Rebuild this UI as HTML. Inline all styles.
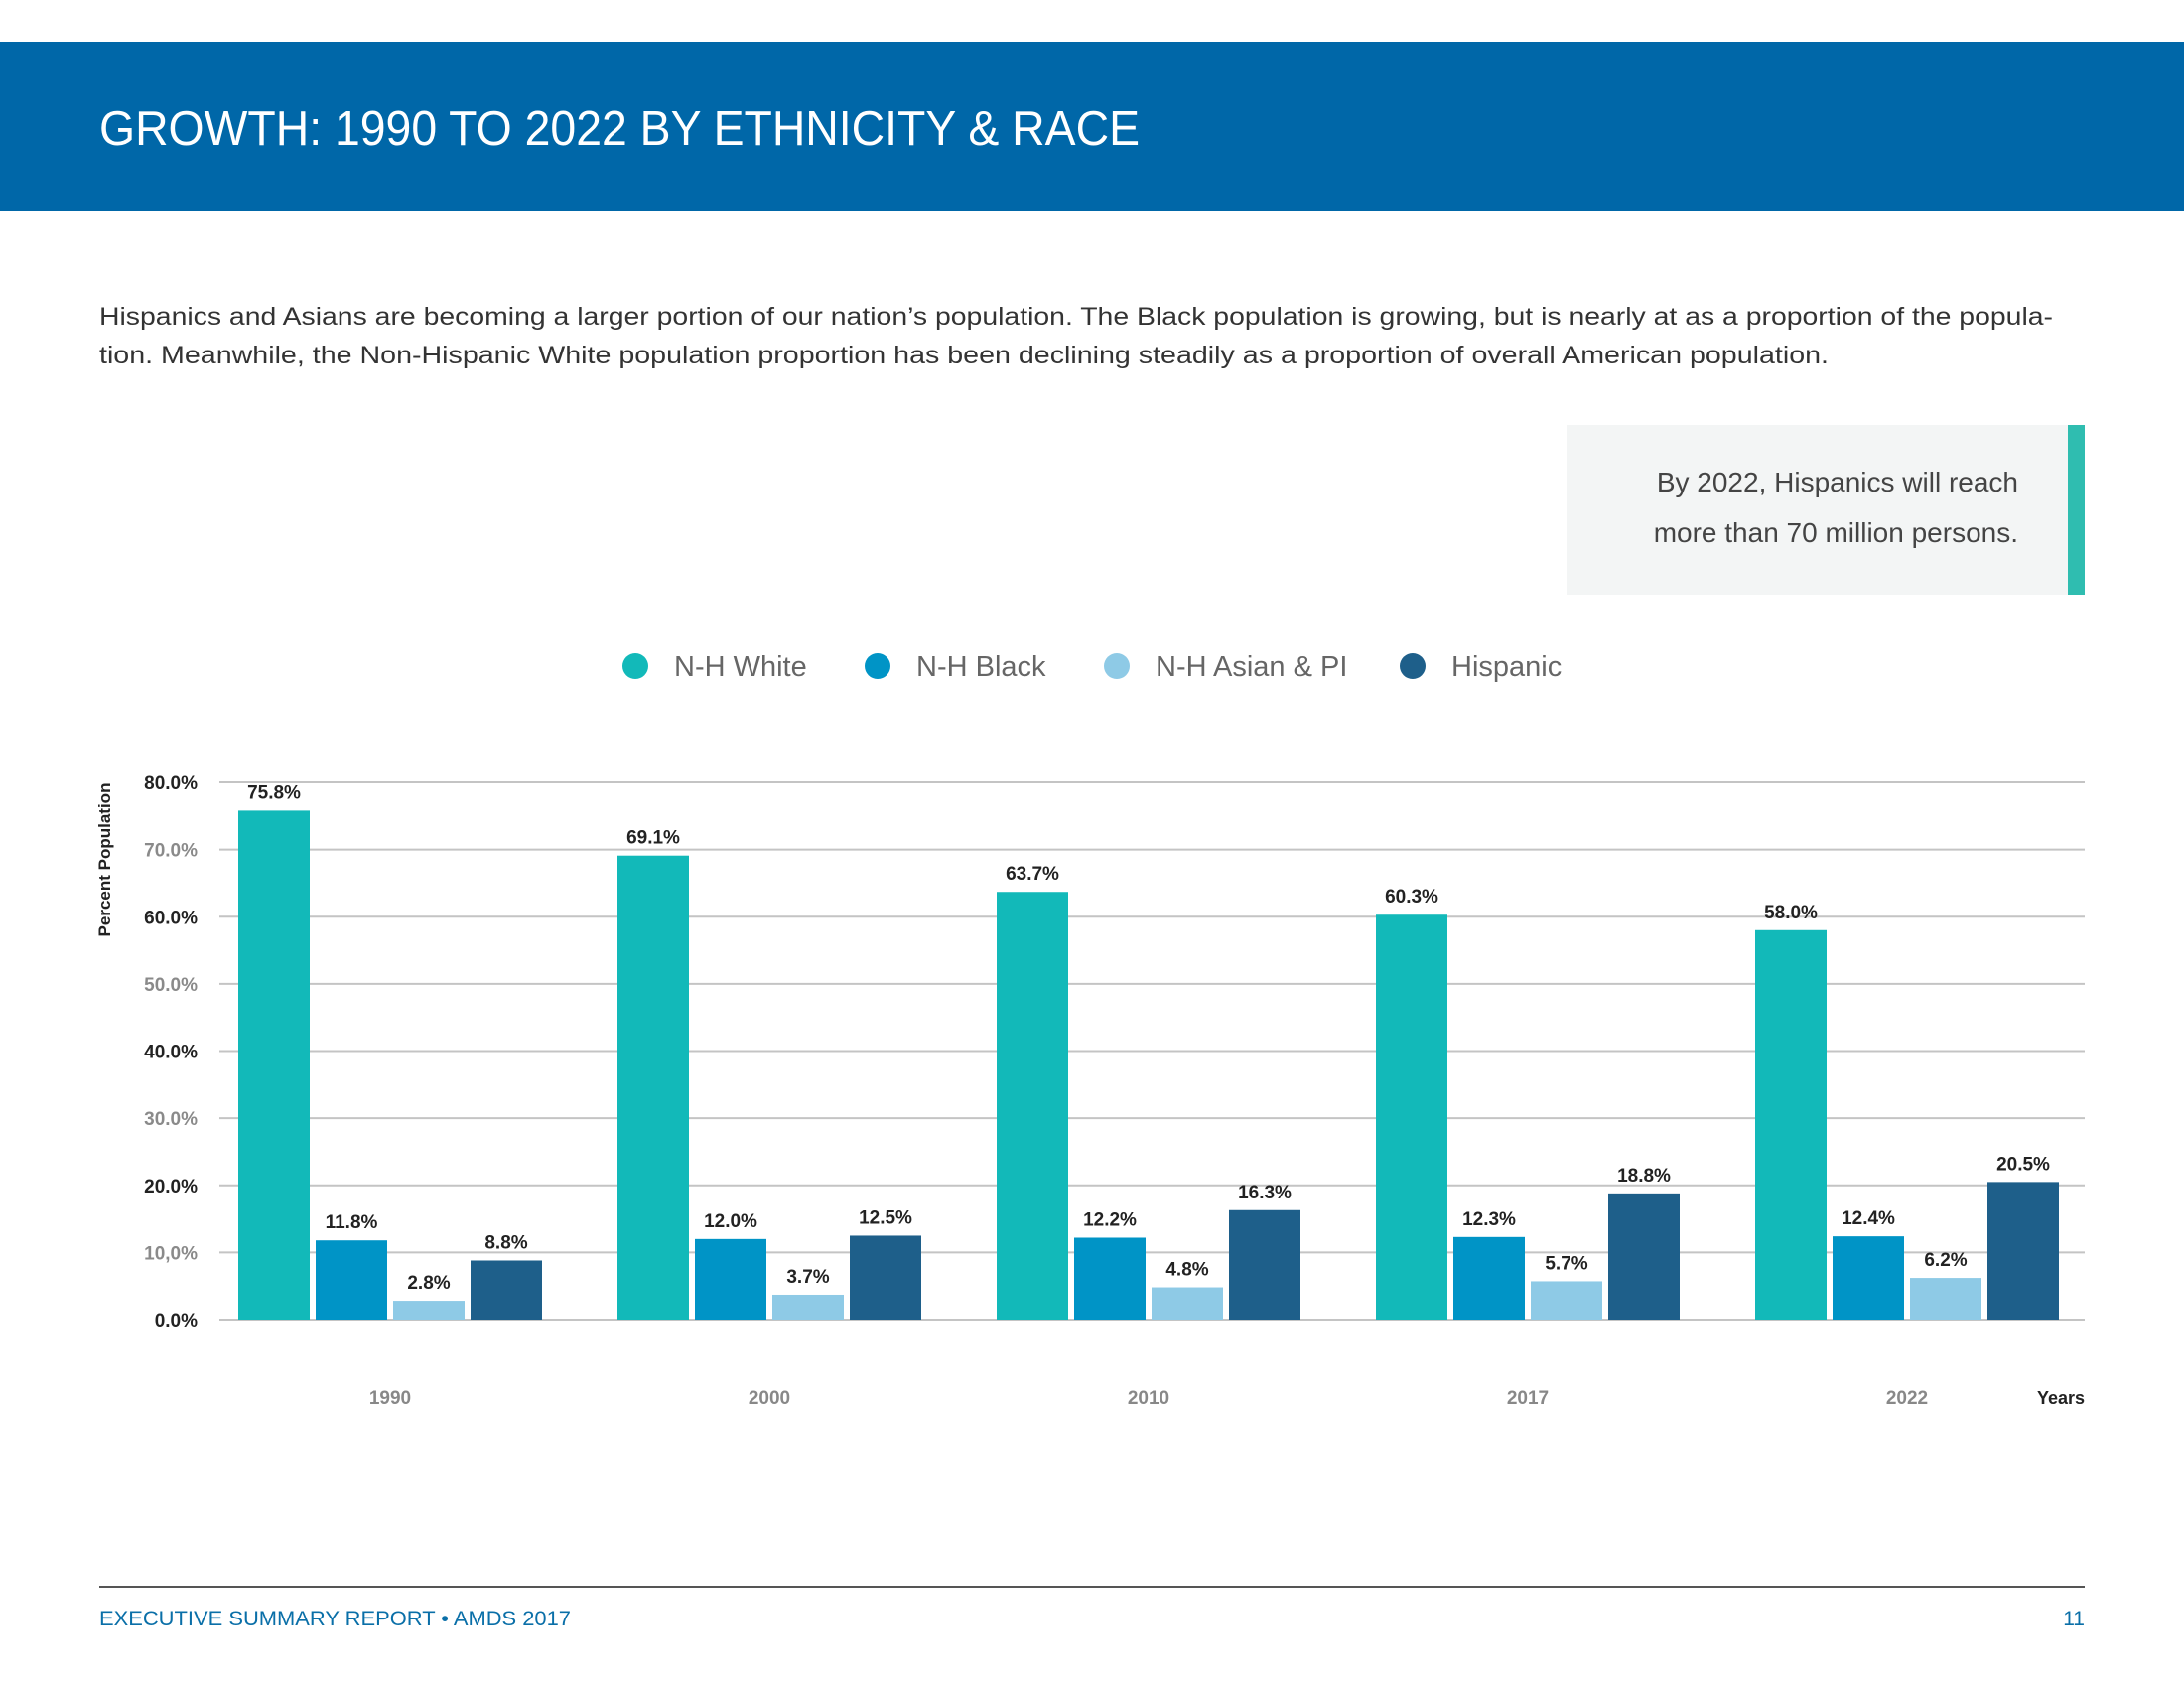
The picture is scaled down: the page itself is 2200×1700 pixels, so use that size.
<!DOCTYPE html>
<html><head><meta charset="utf-8">
<style>
html,body{margin:0;padding:0;background:#fff;}
svg{display:block;font-family:"Liberation Sans",sans-serif;}
</style></head>
<body>
<svg id="page" width="2200" height="1700" viewBox="0 0 2200 1700">
  <rect x="0" y="42" width="2200" height="171" fill="#0067a8"/>
  <text x="100" y="146" font-size="49" fill="#fff" textLength="1048" lengthAdjust="spacingAndGlyphs">GROWTH: 1990 TO 2022 BY ETHNICITY &amp; RACE</text>
  <text x="100" y="327" font-size="25" fill="#333" textLength="1968" lengthAdjust="spacingAndGlyphs">Hispanics and Asians are becoming a larger portion of our nation’s population. The Black population is growing, but is nearly at as a proportion of the popula-</text>
  <text x="100" y="366" font-size="25" fill="#333" textLength="1742" lengthAdjust="spacingAndGlyphs">tion. Meanwhile, the Non-Hispanic White population proportion has been declining steadily as a proportion of overall American population.</text>
  <g>
    <rect x="1578" y="428" width="505" height="171" fill="#f3f5f5"/>
    <rect x="2083" y="428" width="17" height="171" fill="#2fbdb0"/>
    <text x="2033" y="495" font-size="28" fill="#444" text-anchor="end">By 2022, Hispanics will reach</text>
    <text x="2033" y="546" font-size="28" fill="#444" text-anchor="end">more than 70 million persons.</text>
  </g>
  <g id="legend"></g>
  <g id="chart"></g>
  <text transform="translate(111,866) rotate(-90)" font-size="17" font-weight="bold" fill="#222" text-anchor="middle">Percent Population</text>
  <text x="2100" y="1414" font-size="18" font-weight="bold" fill="#222" text-anchor="end">Years</text>
  <line x1="100" y1="1598" x2="2100" y2="1598" stroke="#555" stroke-width="2"/>
  <text x="100" y="1637" font-size="21" fill="#0a6fa8" textLength="475" lengthAdjust="spacingAndGlyphs">EXECUTIVE SUMMARY REPORT  •  AMDS 2017</text>
  <text x="2100" y="1637" font-size="21" fill="#0a6fa8" text-anchor="end">11</text>
</svg>
<script>
const categories = ["1990","2000","2010","2017","2022"];
const seriesNames = ["N-H White","N-H Black","N-H Asian & PI","Hispanic"];
const whiteVals = [75.8,69.1,63.7,60.3,58.0];
const blackVals = [11.8,12.0,12.2,12.3,12.4];
const asianVals = [2.8,3.7,4.8,5.7,6.2];
const hispVals = [8.8,12.5,16.3,18.8,20.5];
const yTicks = [0,10,20,30,40,50,60,70,80];
const yTickLabels = ["0.0%","10,0%","20.0%","30.0%","40.0%","50.0%","60.0%","70.0%","80.0%"];

const NS="http://www.w3.org/2000/svg";
const colors=["#12b9b9","#0094c6","#8ecae6","#1e5f8a"];
const plotL=221, plotR=2100, y0=1329, y80=788;
function y(v){return y0-(v/80)*(y0-y80);}
const groupStart=240, pitch=382, barW=72, barStep=78;
function x(gi,si){return groupStart+gi*pitch+si*barStep;}
function mk(tag,attrs,parent){const e=document.createElementNS(NS,tag);for(const k in attrs)e.setAttribute(k,attrs[k]);parent.appendChild(e);return e;}

const chart=document.getElementById('chart');
yTicks.forEach((t,i)=>{
  const l=mk('line',{x1:plotL,x2:plotR,y1:y(t),y2:y(t),stroke:'#c4c4c4','stroke-width':2},chart);
  
  
  const tx=mk('text',{x:199,y:y(t)+7,'font-size':19,'font-weight':'bold',fill:(i%2===0)?'#222':'#8a8a8a','text-anchor':'end'},chart);
  tx.textContent=yTickLabels[i];
  
  
});
const all=[whiteVals,blackVals,asianVals,hispVals];
categories.forEach((c,gi)=>{
  all.forEach((vals,si)=>{
    const v=vals[gi];
    const r=mk('rect',{x:x(gi,si),y:y(v),width:barW,height:y0-y(v),fill:colors[si]},chart);
    
    
    const lb=mk('text',{x:x(gi,si)+barW/2,y:y(v)-12,'font-size':19,'font-weight':'bold',fill:'#222','text-anchor':'middle'},chart);
    lb.textContent=v.toFixed(1)+'%';
    
    
  });
  const xl=mk('text',{x:x(gi,0)+(3*barStep+barW)/2,y:1414,'font-size':19,'font-weight':'bold',fill:'#888','text-anchor':'middle'},chart);
  xl.textContent=c;
  
  
});
const legend=document.getElementById('legend');
const legCx=[640,884,1125,1423];
seriesNames.forEach((n,i)=>{
  const g=mk('g',{},legend);
  
  
  mk('circle',{cx:legCx[i],cy:671,r:13,fill:colors[i]},g);
  const t=mk('text',{x:legCx[i]+39,y:681,'font-size':29,fill:'#666'},g);
  t.textContent=n;
});
</script>
</body></html>
